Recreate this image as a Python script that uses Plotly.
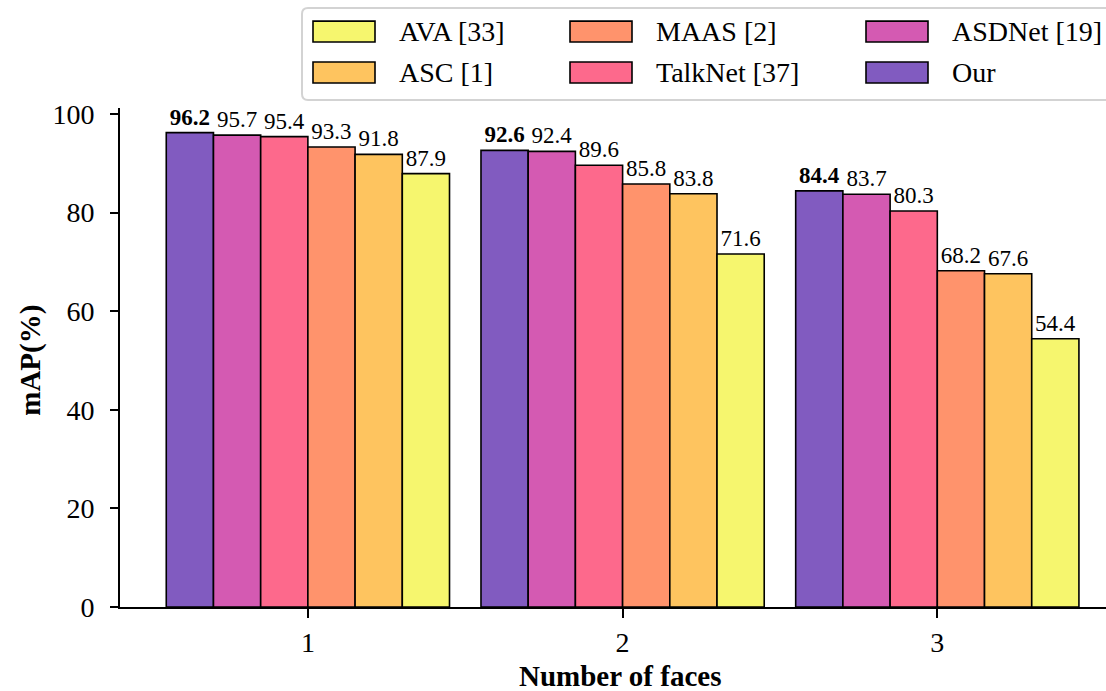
import plotly.graph_objects as go

# ---------------- data ----------------
groups = [1, 2, 3]
group_labels = ["1", "2", "3"]
methods = ["Our", "ASDNet [19]", "TalkNet [37]", "MAAS [2]", "ASC [1]", "AVA [33]"]
our = [96.2, 92.6, 84.4]
asdnet = [95.7, 92.4, 83.7]
talknet = [95.4, 89.6, 80.3]
maas = [93.3, 85.8, 68.2]
asc = [91.8, 83.8, 67.6]
ava = [87.9, 71.6, 54.4]
series = [our, asdnet, talknet, maas, asc, ava]
colors = ["#815BC0", "#D45AB2", "#FD698C", "#FF936C", "#FEC45F", "#F6F66E"]
legend_order = [["AVA [33]", "ASC [1]"], ["MAAS [2]", "TalkNet [37]"], ["ASDNet [19]", "Our"]]
y_ticks = [0, 20, 40, 60, 80, 100]

FONT = "Liberation Serif"
W, H = 1106, 691
L, R, T, B = 120, 0, 108, 83.5
PW = W - L - R
PH = H - T - B


def px_x(px):
    return (px - L) / PW


def px_y(py):
    return (H - B - py) / PH


fig = go.Figure()
for name, vals, col in zip(methods, series, colors):
    if name == "Our":
        txt = ["<b>%.1f</b>" % v for v in vals]
    else:
        txt = ["%.1f" % v for v in vals]
    fig.add_trace(go.Bar(
        x=groups, y=vals, name=name,
        marker=dict(color=col, line=dict(color="black", width=1.6)),
        text=txt, textposition="outside", constraintext="none",
        textfont=dict(family=FONT, size=23, color="black"),
        cliponaxis=False, showlegend=False,
    ))

# ---------------- manual legend (matplotlib style) ----------------
shapes = []
annotations = []
fx0, fy0, fy1 = 302, 8, 100
rad = 6
x0p, x1p = px_x(fx0), px_x(W + 40)
y0p, y1p = px_y(fy1), px_y(fy0)
rx, ry = rad / PW, rad / PH
path = (f"M {x1p},{y1p} L {x0p+rx},{y1p} Q {x0p},{y1p} {x0p},{y1p-ry} "
        f"L {x0p},{y0p+ry} Q {x0p},{y0p} {x0p+rx},{y0p} L {x1p},{y0p} Z")
shapes.append(dict(type="path", xref="paper", yref="paper", path=path,
                   line=dict(color="#D3D3D3", width=2), fillcolor="rgba(255,255,255,0.85)",
                   layer="above"))
col_x = [313, 570, 866]
row_y = [31.5, 72.5]
pw, ph = 62, 21
color_of = dict(zip(methods, colors))
for ci, col_items in enumerate(legend_order):
    for ri, name in enumerate(col_items):
        cx = col_x[ci]
        cy = row_y[ri]
        shapes.append(dict(type="rect", xref="paper", yref="paper",
                           x0=px_x(cx), x1=px_x(cx + pw),
                           y0=px_y(cy + ph / 2), y1=px_y(cy - ph / 2),
                           fillcolor=color_of[name], line=dict(color="black", width=1.6),
                           layer="above"))
        annotations.append(dict(xref="paper", yref="paper", x=px_x(cx + pw + 22), y=px_y(cy),
                                text=name, showarrow=False, xanchor="left", yanchor="middle",
                                font=dict(family=FONT, size=28, color="black")))

# axis titles
annotations.append(dict(xref="paper", yref="paper", x=px_x(620), y=px_y(677),
                        text="<b>Number of faces</b>", showarrow=False,
                        xanchor="center", yanchor="middle",
                        font=dict(family=FONT, size=29, color="black")))
annotations.append(dict(xref="paper", yref="paper", x=px_x(31), y=px_y(361),
                        text="<b>mAP(%)</b>", showarrow=False, textangle=-90,
                        xanchor="center", yanchor="middle",
                        font=dict(family=FONT, size=29, color="black")))

fig.update_layout(
    width=W, height=H,
    margin=dict(l=L, r=R, t=T, b=B, pad=0),
    barmode="group", bargap=0.1, bargroupgap=0,
    plot_bgcolor="white", paper_bgcolor="white",
    showlegend=False,
    shapes=shapes, annotations=annotations,
    font=dict(family=FONT, color="black"),
)
fig.update_xaxes(
    range=[0.403, 3.536], tickvals=groups, ticktext=group_labels,
    showline=True, linecolor="black", linewidth=2,
    ticks="outside", ticklen=9, tickwidth=2, tickcolor="black",
    showgrid=False, zeroline=False,
    tickfont=dict(family=FONT, size=28, color="black"),
    ticklabelstandoff=0,
)
fig.update_yaxes(
    range=[0, 101.2], tickvals=y_ticks,
    showline=True, linecolor="black", linewidth=2,
    ticks="outside", ticklen=8, tickwidth=2, tickcolor="black",
    showgrid=False, zeroline=False,
    tickfont=dict(family=FONT, size=28, color="black"),
    ticklabelstandoff=10,
)

fig.write_html(
    "out.html",
    config={"displayModeBar": False},
    post_script="document.body.style.margin='0';document.body.style.padding='0';document.body.style.overflow='hidden';",
)
